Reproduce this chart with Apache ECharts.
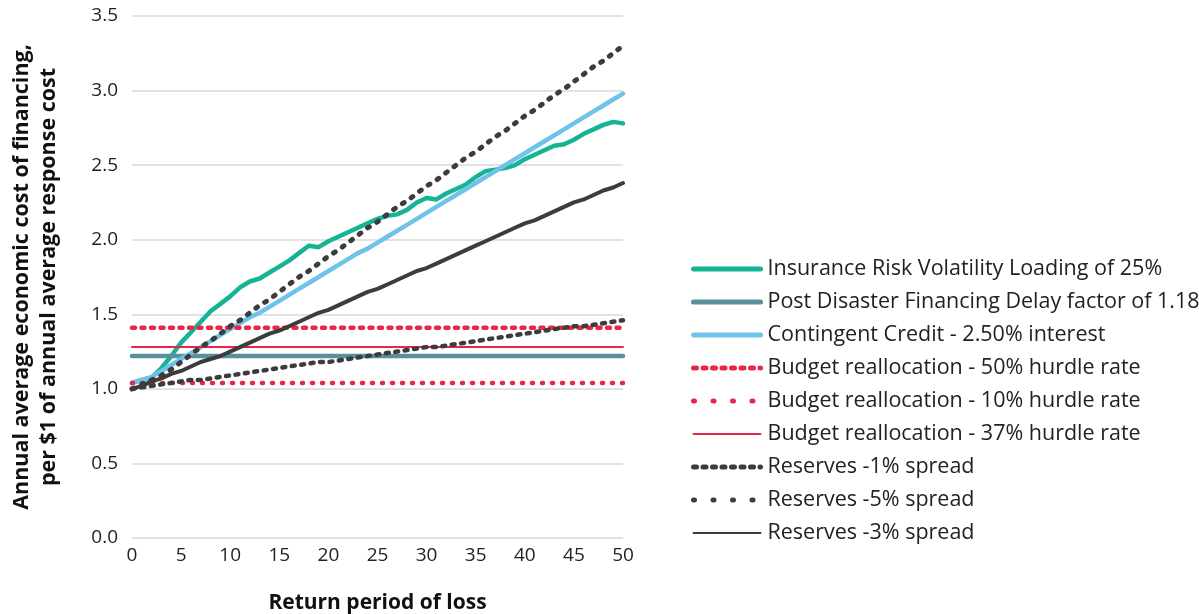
<!DOCTYPE html>
<html>
<head>
<meta charset="utf-8">
<script src="https://cdn.jsdelivr.net/npm/echarts@6/dist/echarts.min.js"></script>
<style>
  html, body { margin: 0; padding: 0; background: #fff; }
  #chart { width: 1199px; height: 614px; }
</style>
</head>
<body>
<div id="chart"></div>
<script>
// return period (years)
const returnPeriods = [0, 1, 2, 3, 4, 5, 6, 7, 8, 9, 10, 11, 12, 13, 14, 15, 16, 17, 18, 19, 20,
  21, 22, 23, 24, 25, 26, 27, 28, 29, 30, 31, 32, 33, 34, 35, 36, 37, 38, 39, 40,
  41, 42, 43, 44, 45, 46, 47, 48, 49, 50]

const insurance = [1.04, 1.06, 1.075, 1.14, 1.22, 1.31, 1.38, 1.45, 1.52, 1.57, 1.62,
  1.68, 1.72, 1.74, 1.78, 1.82, 1.86, 1.91, 1.96, 1.95, 1.99,
  2.02, 2.05, 2.08, 2.11, 2.14, 2.16, 2.17, 2.20, 2.25, 2.28,
  2.27, 2.31, 2.34, 2.37, 2.42, 2.46, 2.47, 2.48, 2.50, 2.54,
  2.57, 2.60, 2.63, 2.64, 2.67, 2.71, 2.74, 2.77, 2.79, 2.78]

const contingentCredit = [1.04, 1.06, 1.08, 1.12, 1.16, 1.20, 1.24, 1.28, 1.32, 1.36, 1.40,
  1.44, 1.48, 1.51, 1.55, 1.59, 1.63, 1.67, 1.71, 1.75, 1.79,
  1.83, 1.87, 1.91, 1.94, 1.98, 2.02, 2.06, 2.10, 2.14, 2.18,
  2.22, 2.26, 2.30, 2.34, 2.38, 2.42, 2.46, 2.50, 2.54, 2.58,
  2.62, 2.66, 2.70, 2.74, 2.78, 2.82, 2.86, 2.90, 2.94, 2.98]

const reserves1 = [1.00, 1.01, 1.02, 1.03, 1.04, 1.05, 1.06, 1.06, 1.07, 1.08, 1.09,
  1.10, 1.11, 1.12, 1.13, 1.14, 1.15, 1.16, 1.17, 1.18, 1.18,
  1.19, 1.20, 1.21, 1.22, 1.23, 1.24, 1.25, 1.26, 1.27, 1.28,
  1.28, 1.29, 1.30, 1.31, 1.32, 1.33, 1.34, 1.35, 1.36, 1.37,
  1.38, 1.39, 1.40, 1.41, 1.42, 1.42, 1.43, 1.44, 1.45, 1.46]

const reserves5 = [1.00, 1.03, 1.06, 1.09, 1.13, 1.18, 1.23, 1.28, 1.32, 1.37, 1.42,
  1.46, 1.51, 1.56, 1.60, 1.65, 1.70, 1.75, 1.79, 1.84, 1.89,
  1.93, 1.98, 2.03, 2.08, 2.12, 2.17, 2.22, 2.26, 2.31, 2.36,
  2.40, 2.45, 2.50, 2.55, 2.59, 2.64, 2.69, 2.73, 2.78, 2.83,
  2.87, 2.92, 2.97, 3.01, 3.06, 3.11, 3.16, 3.20, 3.25, 3.30]

const reserves3 = [1.00, 1.02, 1.05, 1.07, 1.10, 1.12, 1.15, 1.18, 1.20, 1.22, 1.25,
  1.28, 1.31, 1.34, 1.37, 1.39, 1.42, 1.45, 1.48, 1.51, 1.53,
  1.56, 1.59, 1.62, 1.65, 1.67, 1.70, 1.73, 1.76, 1.79, 1.81,
  1.84, 1.87, 1.90, 1.93, 1.96, 1.99, 2.02, 2.05, 2.08, 2.11,
  2.13, 2.16, 2.19, 2.22, 2.25, 2.27, 2.30, 2.33, 2.35, 2.38]

// flat lines
const postDisaster = 1.22
const budget50 = 1.41
const budget10 = 1.04
const budget37 = 1.28

const seriesNames = [
  'Insurance Risk Volatility Loading of 25%',
  'Post Disaster Financing Delay factor of 1.18',
  'Contingent Credit - 2.50% interest',
  'Budget reallocation - 50% hurdle rate',
  'Budget reallocation - 10% hurdle rate',
  'Budget reallocation - 37% hurdle rate',
  'Reserves -1% spread',
  'Reserves -5% spread',
  'Reserves -3% spread',
]

const yTicks = ['0.0', '0.5', '1.0', '1.5', '2.0', '2.5', '3.0', '3.5']

const GREEN = '#14b495'
const TEAL = '#5a8f9c'
const BLUE = '#6fc3ea'
const RED = '#e8254a'
const DARK = '#3c3c3c'
const FONT = '"Open Sans", Lato, sans-serif'

const denseDash = [3, 6.5]
const sparseRed = [1, 9]
const sparseDark = [2, 8.6]
const legendSparse = [1, 18.5]

// line look for each series: [color, width, dash, legend width, legend dash]
const looks = [
  [GREEN, 4.5, 'solid', 5, 'solid'],
  [TEAL, 4.5, 'solid', 5, 'solid'],
  [BLUE, 4.5, 'solid', 5, 'solid'],
  [RED, 4.5, denseDash, 5, denseDash],
  [RED, 4.5, sparseRed, 5, legendSparse],
  [RED, 2, 'solid', 2, 'solid'],
  [DARK, 4.5, denseDash, 5, denseDash],
  [DARK, 5, sparseDark, 5, legendSparse],
  [DARK, 4, 'solid', 2, 'solid'],
]

const pairUp = (arr) => returnPeriods.map((t, i) => [t, arr[i]])
const flat = (v) => [[returnPeriods[0], v], [returnPeriods[returnPeriods.length - 1], v]]

const seriesData = [
  pairUp(insurance),
  flat(postDisaster),
  pairUp(contingentCredit),
  flat(budget50),
  flat(budget10),
  flat(budget37),
  pairUp(reserves1),
  pairUp(reserves5),
  pairUp(reserves3),
]

var myChart = echarts.init(document.getElementById('chart'))
var option = {
  backgroundColor: '#fff',
  animation: false,
  textStyle: { fontFamily: FONT },
  grid: {
    left: 132,
    right: 576,
    top: 16,
    bottom: 76,
    containLabel: false,
    outerBoundsMode: 'none',
  },
  legend: {
    orient: 'vertical',
    left: 686,
    top: 253,
    itemWidth: 67,
    itemHeight: 14,
    itemGap: 11,
    itemStyle: { opacity: 0 },
    textStyle: {
      fontFamily: FONT,
      fontSize: 21.5,
      lineHeight: 20,
      color: '#222',
      padding: [0, 0, 0, 2],
    },
    data: seriesNames.map((n, i) => ({
      name: n,
      lineStyle: { width: looks[i][3], type: looks[i][4], cap: 'round' },
    })),
  },
  xAxis: {
    type: 'value',
    min: 0,
    max: 50,
    interval: 5,
    name: 'Return period of loss',
    nameLocation: 'middle',
    nameGap: 55,
    nameTextStyle: { fontFamily: FONT, fontSize: 21, fontWeight: 'bold', color: '#111' },
    axisLine: { show: false },
    axisTick: { show: false },
    splitLine: { show: false },
    axisLabel: { fontFamily: FONT, fontSize: 19, color: '#222', margin: 8 },
  },
  yAxis: {
    type: 'value',
    min: 0,
    max: 3.5,
    interval: 0.5,
    name: 'Annual average economic cost of financing,\nper $1 of annual average response cost',
    nameLocation: 'middle',
    nameGap: 70,
    nameRotate: 90,
    nameTextStyle: { fontFamily: FONT, fontSize: 21.5, fontWeight: 'bold', color: '#111', lineHeight: 27 },
    axisLine: { show: false },
    axisTick: { show: false },
    splitLine: { show: true, lineStyle: { color: '#d9d9d9', width: 1.5 } },
    axisLabel: {
      fontFamily: FONT,
      fontSize: 19,
      color: '#222',
      margin: 14,
      formatter: (v) => yTicks[Math.round(v / 0.5)],
    },
  },
  series: seriesNames.map((n, i) => ({
    name: n,
    type: 'line',
    data: seriesData[i],
    symbol: 'none',
    silent: true,
    lineStyle: {
      color: looks[i][0],
      width: looks[i][1],
      type: looks[i][2],
      cap: 'round',
      join: 'round',
    },
    itemStyle: { color: looks[i][0] },
  })),
}
option && myChart.setOption(option)
</script>
</body>
</html>
